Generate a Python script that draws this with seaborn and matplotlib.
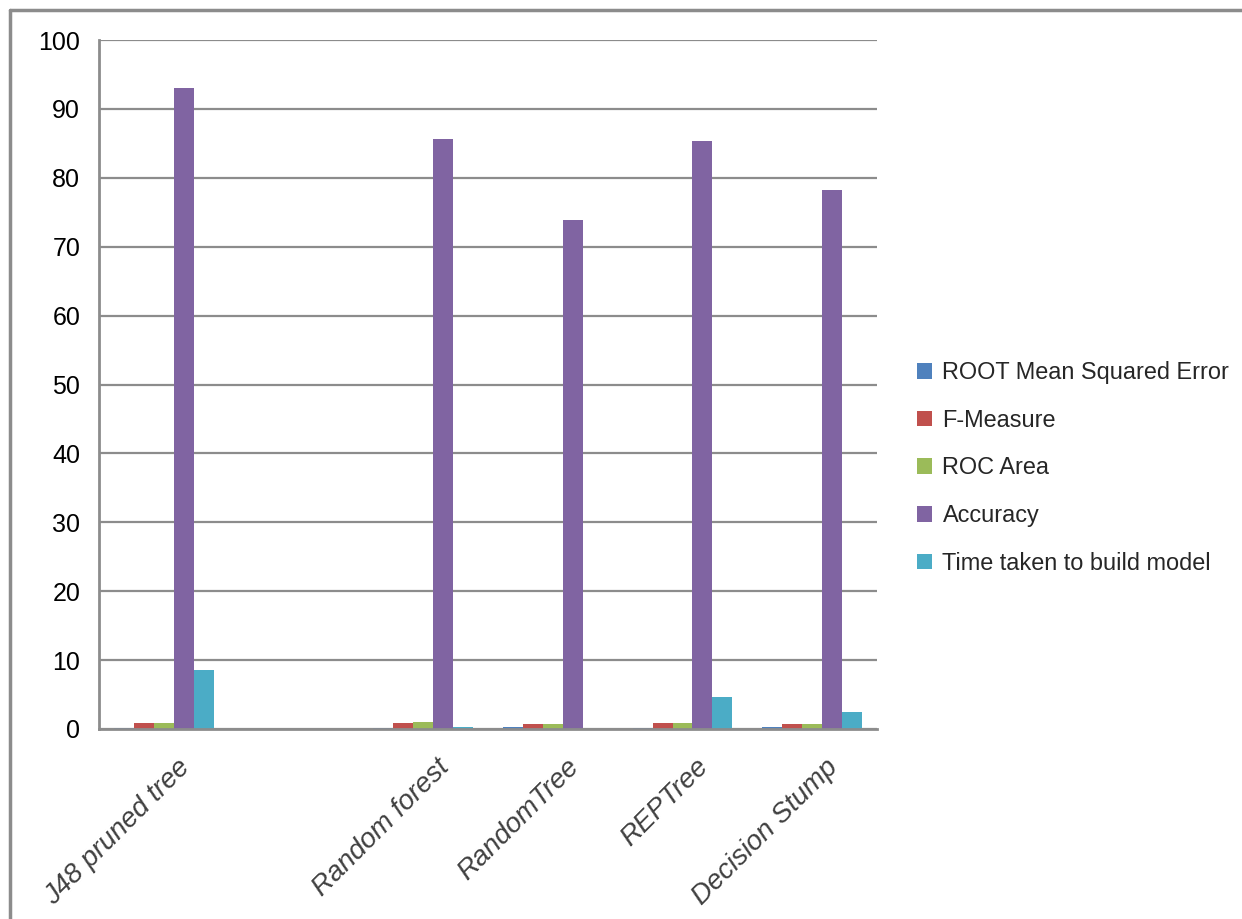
import numpy as np
import pandas as pd
import seaborn as sns

from matplotlib import pyplot as plt
from matplotlib.lines import Line2D

# data
classifiers = ["J48 pruned tree", "", "Random forest", "RandomTree", "REPTree", "Decision Stump"]
metrics = ["ROOT Mean Squared Error", "F-Measure", "ROC Area", "Accuracy", "Time taken to build model"]
rmse = [0.15, np.nan, 0.19, 0.29, 0.19, 0.29]
f_measure = [0.91, np.nan, 0.82, 0.72, 0.87, 0.72]
roc_area = [0.91, np.nan, 0.97, 0.72, 0.87, 0.72]
accuracy = [93.1, np.nan, 85.7, 73.9, 85.3, 78.3]
build_time = [8.6, np.nan, 0.33, 0.05, 4.64, 2.46]
yticks = [0, 10, 20, 30, 40, 50, 60, 70, 80, 90, 100]

colors = ["#4F81BD", "#C0504D", "#9BBB59", "#8064A2", "#4BACC6"]
GRAY = "#8C8C8C"

sns.set_style("white")
plt.rcParams["font.family"] = ["Liberation Sans", "DejaVu Sans"]

df = pd.DataFrame({"classifier": classifiers, metrics[0]: rmse, metrics[1]: f_measure,
                   metrics[2]: roc_area, metrics[3]: accuracy, metrics[4]: build_time})
long_df = df.melt(id_vars="classifier", var_name="metric", value_name="value").fillna(0)

fig = plt.figure(figsize=(12.42, 9.19), dpi=100)
ax = fig.add_axes([99 / 1242, 1 - 729 / 919, (877 - 99) / 1242, (729 - 40) / 919])

sns.barplot(data=long_df, x="classifier", y="value", hue="metric", order=classifiers,
            hue_order=metrics, palette=colors, width=0.77, saturation=1, ax=ax,
            errorbar=None, edgecolor="none", linewidth=0)

ax.set_ylim(0, 100)
ax.set_xlim(-0.5, len(classifiers) - 0.5)
ax.set_yticks(yticks)
ax.set_yticklabels([str(t) for t in yticks], fontsize=18, color="black")
ax.yaxis.grid(True, color=GRAY, linewidth=1.6)
ax.set_axisbelow(True)
ax.set_xlabel("")
ax.set_ylabel("")

# category boundaries as minor ticks, labels at centers
ax.set_xticks(np.arange(len(classifiers)) + 0.1)
ax.set_xticklabels(classifiers, rotation=45, ha="right", rotation_mode="anchor",
                   fontsize=20, style="italic", color="#404040")
ax.set_xticks(np.arange(len(classifiers) + 1) - 0.5, minor=True)
ax.tick_params(axis="x", which="major", length=0, pad=18)
ax.tick_params(axis="x", which="minor", length=6, width=2.5, color=GRAY, direction="out")
ax.tick_params(axis="y", length=4.5, width=2.5, color=GRAY, direction="out", pad=9)

for side in ["top", "right"]:
    ax.spines[side].set_visible(False)
for side in ["left", "bottom"]:
    ax.spines[side].set_color(GRAY)
    ax.spines[side].set_linewidth(2)

handles, labels = ax.get_legend_handles_labels()
ax.legend(handles, labels, loc="center left", bbox_to_anchor=(1.051, 0.379), frameon=False,
          fontsize=16.9, handlelength=0.65, handleheight=0.65, handletextpad=0.45,
          labelspacing=1.05, borderaxespad=0, borderpad=0)

# outer chart frame
fig.add_artist(Line2D([10 / 1242, 10 / 1242], [0, 1 - 10 / 919], transform=fig.transFigure,
                      color=GRAY, linewidth=2.5))
fig.add_artist(Line2D([10 / 1242, 1], [1 - 10 / 919, 1 - 10 / 919], transform=fig.transFigure,
                      color=GRAY, linewidth=2.5))

fig.savefig("out.png", dpi=100)
